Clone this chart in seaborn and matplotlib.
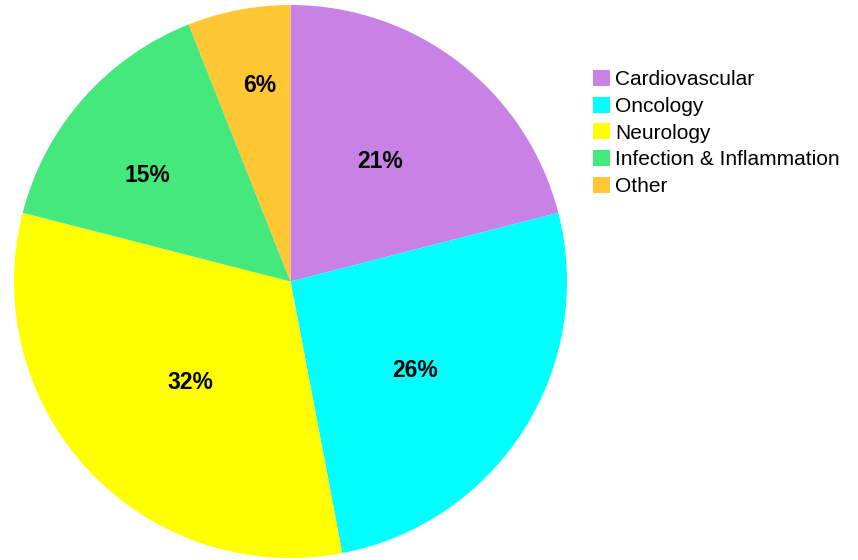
import matplotlib
matplotlib.use("Agg")
import matplotlib.pyplot as plt
import numpy as np
import seaborn as sns

categories = ["Cardiovascular", "Oncology", "Neurology", "Infection & Inflammation", "Other"]
shares = [21, 26, 32, 15, 6]
colors = ["#C882E6", "#00FFFF", "#FFFF00", "#45E87D", "#FFC733"]
# radial distance and angular nudge (degrees) of each percentage label
label_radius = [0.54, 0.555, 0.516, 0.645, 0.719]
label_shift = [1.0, -3.2, 2.1, 4.9, -2.0]

sns.set_theme(style="white")
plt.rcParams["font.family"] = ["Liberation Sans", "DejaVu Sans"]
plt.rcParams["text.color"] = "black"

fig = plt.figure(figsize=(8.58, 5.6), dpi=100)
W, H = 858, 560
cx, cy, r = 290.5, 281.5, 276.5
ax = fig.add_axes([(cx - r) / W, (H - cy - r) / H, 2 * r / W, 2 * r / H])

wedges, _ = ax.pie(shares, colors=colors, startangle=90, counterclock=False,
                   wedgeprops=dict(linewidth=0))
ax.set_xlim(-1, 1)
ax.set_ylim(-1, 1)
ax.set_aspect("equal")
ax.axis("off")

for w, val, d, s in zip(wedges, shares, label_radius, label_shift):
    mid = np.deg2rad((w.theta1 + w.theta2) / 2 + s)
    ax.text(d * np.cos(mid), d * np.sin(mid), f"{val}%", ha="center", va="center",
            fontsize=16.5, fontweight="bold", color="black")

fig.legend(wedges, categories, loc="upper left", bbox_to_anchor=(593 / W, 1 - 70 / H),
           frameon=False, fontsize=15, handlelength=0.8, handleheight=0.8,
           handletextpad=0.25, labelspacing=0.36, borderaxespad=0, borderpad=0,
           labelcolor="black")

fig.savefig("out.png", dpi=100)
